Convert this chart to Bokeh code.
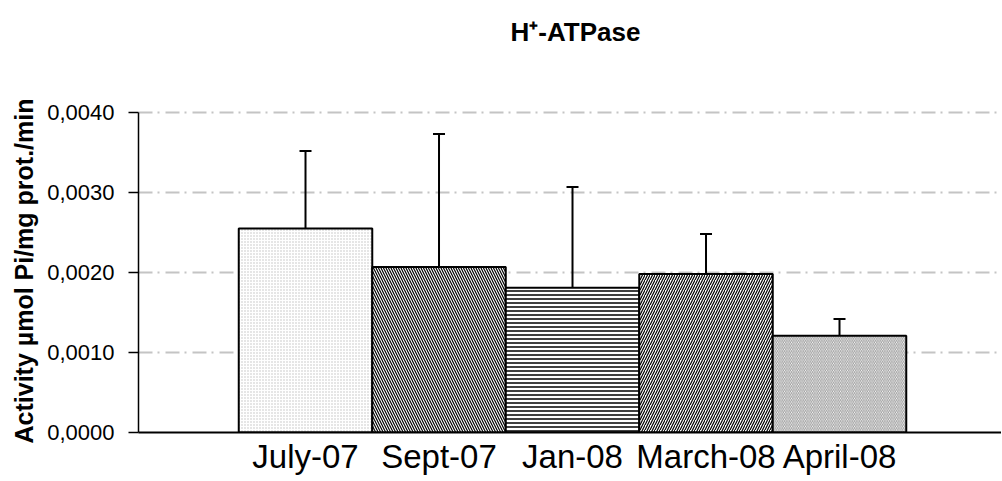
from bokeh.plotting import figure
from bokeh.models import ColumnDataSource, Range1d, FixedTicker, Whisker, TeeHead, Label, Title
from bokeh.embed import file_html
from bokeh.resources import INLINE

# ---- data ----
title_text = "H\u207A-ATPase"
y_label_text = "Activity \u00b5mol Pi/mg prot./min"
months = ["July-07", "Sept-07", "Jan-08", "March-08", "April-08"]
activity = [0.00255, 0.00207, 0.00181, 0.00198, 0.00121]
sd = [0.00097, 0.00166, 0.00126, 0.00050, 0.00021]
hatch_patterns = ["dot", "left_diagonal_line", "horizontal_line", "right_diagonal_line", "left_diagonal_line"]
hatch_colors = ["#c0c0c0", "#000000", "#000000", "#000000", "#999999"]
hatch_scales = [3, 5, 4, 5, 3.5]
hatch_weights = [1, 1.2, 1.5, 1.2, 1]
y_ticks = [0.0, 0.001, 0.002, 0.003, 0.004]
y_tick_labels = ["0,0000", "0,0010", "0,0020", "0,0030", "0,0040"]

xpos = list(range(len(months)))
upper = [a + s for a, s in zip(activity, sd)]

src = ColumnDataSource(dict(x=xpos, top=activity, upper=upper,
                            hatch=hatch_patterns, hcolor=hatch_colors,
                            hscale=hatch_scales, hweight=hatch_weights))

FONT = "Liberation Sans"
FRAME_W, FRAME_H = 863, 432
BAR_PX = 133.5            # pixels per category
PX_PER_UNIT = 80 / 0.001  # pixels per activity unit
x0 = -1.251
y_top = FRAME_H / PX_PER_UNIT  # frame extends above the axis to hold the title

p = figure(frame_width=FRAME_W, frame_height=FRAME_H,
           min_border_left=138, min_border_right=0,
           min_border_top=0, min_border_bottom=10,
           x_range=Range1d(x0, x0 + FRAME_W / BAR_PX), y_range=Range1d(0, y_top),
           output_backend="svg", toolbar_location=None)

p.outline_line_color = None
p.background_fill_color = "white"
p.border_fill_color = "white"

p.vbar(x="x", top="top", bottom=0, width=1, source=src,
       fill_color="white", line_color="black", line_width=2,
       hatch_pattern="hatch", hatch_color="hcolor",
       hatch_scale="hscale", hatch_weight="hweight")

wh = Whisker(source=src, base="x", upper="upper", lower="top",
             dimension="height", line_color="black", line_width=2,
             lower_head=None,
             upper_head=TeeHead(size=12, line_color="black", line_width=2))
p.add_layout(wh)

# chart title inside the upper, empty part of the frame
title_x = x0 + (575 - 138) / BAR_PX
title_y = y_top - 31 / PX_PER_UNIT
p.add_layout(Label(x=title_x, y=title_y, text=title_text,
                   text_font=FONT, text_font_size="26px", text_font_style="bold",
                   text_color="black", text_align="center", text_baseline="middle"))

# grid
p.xgrid.grid_line_color = None
p.ygrid.ticker = FixedTicker(ticks=y_ticks)
p.ygrid.grid_line_color = "#c4c4c4"
p.ygrid.grid_line_width = 2
p.ygrid.grid_line_dash = "14 5 2 6"

# y axis
p.yaxis.ticker = FixedTicker(ticks=y_ticks)
p.yaxis.bounds = (y_ticks[0], y_ticks[-1])
p.yaxis.major_label_overrides = {t: l for t, l in zip(y_ticks, y_tick_labels)}
p.yaxis.major_label_text_font = FONT
p.yaxis.major_label_text_font_size = "22px"
p.yaxis.major_label_text_color = "black"
p.yaxis.major_tick_out = 10
p.yaxis.major_tick_in = 0
p.yaxis.minor_tick_line_color = None
p.yaxis.major_tick_line_width = 1.5
p.yaxis.axis_line_width = 1.5
p.yaxis.major_label_standoff = 14

# y axis label as a left-side title, starting just below the axis foot
ylab = Title(text=y_label_text, align="left", offset=-11,
             text_font=FONT, text_font_size="25px", text_font_style="bold",
             text_color="black", standoff=14)
p.add_layout(ylab, "left")

# x axis
p.xaxis.ticker = FixedTicker(ticks=xpos)
p.xaxis.major_label_overrides = {i: m for i, m in zip(xpos, months)}
p.xaxis.major_label_text_font = FONT
p.xaxis.major_label_text_font_size = "33px"
p.xaxis.major_label_text_color = "black"
p.xaxis.major_tick_line_color = None
p.xaxis.minor_tick_line_color = None
p.xaxis.major_tick_out = 0
p.xaxis.major_tick_in = 0
p.xaxis.major_label_standoff = 5
p.xaxis.axis_line_width = 2

open("out.html", "w").write(file_html(p, INLINE))
